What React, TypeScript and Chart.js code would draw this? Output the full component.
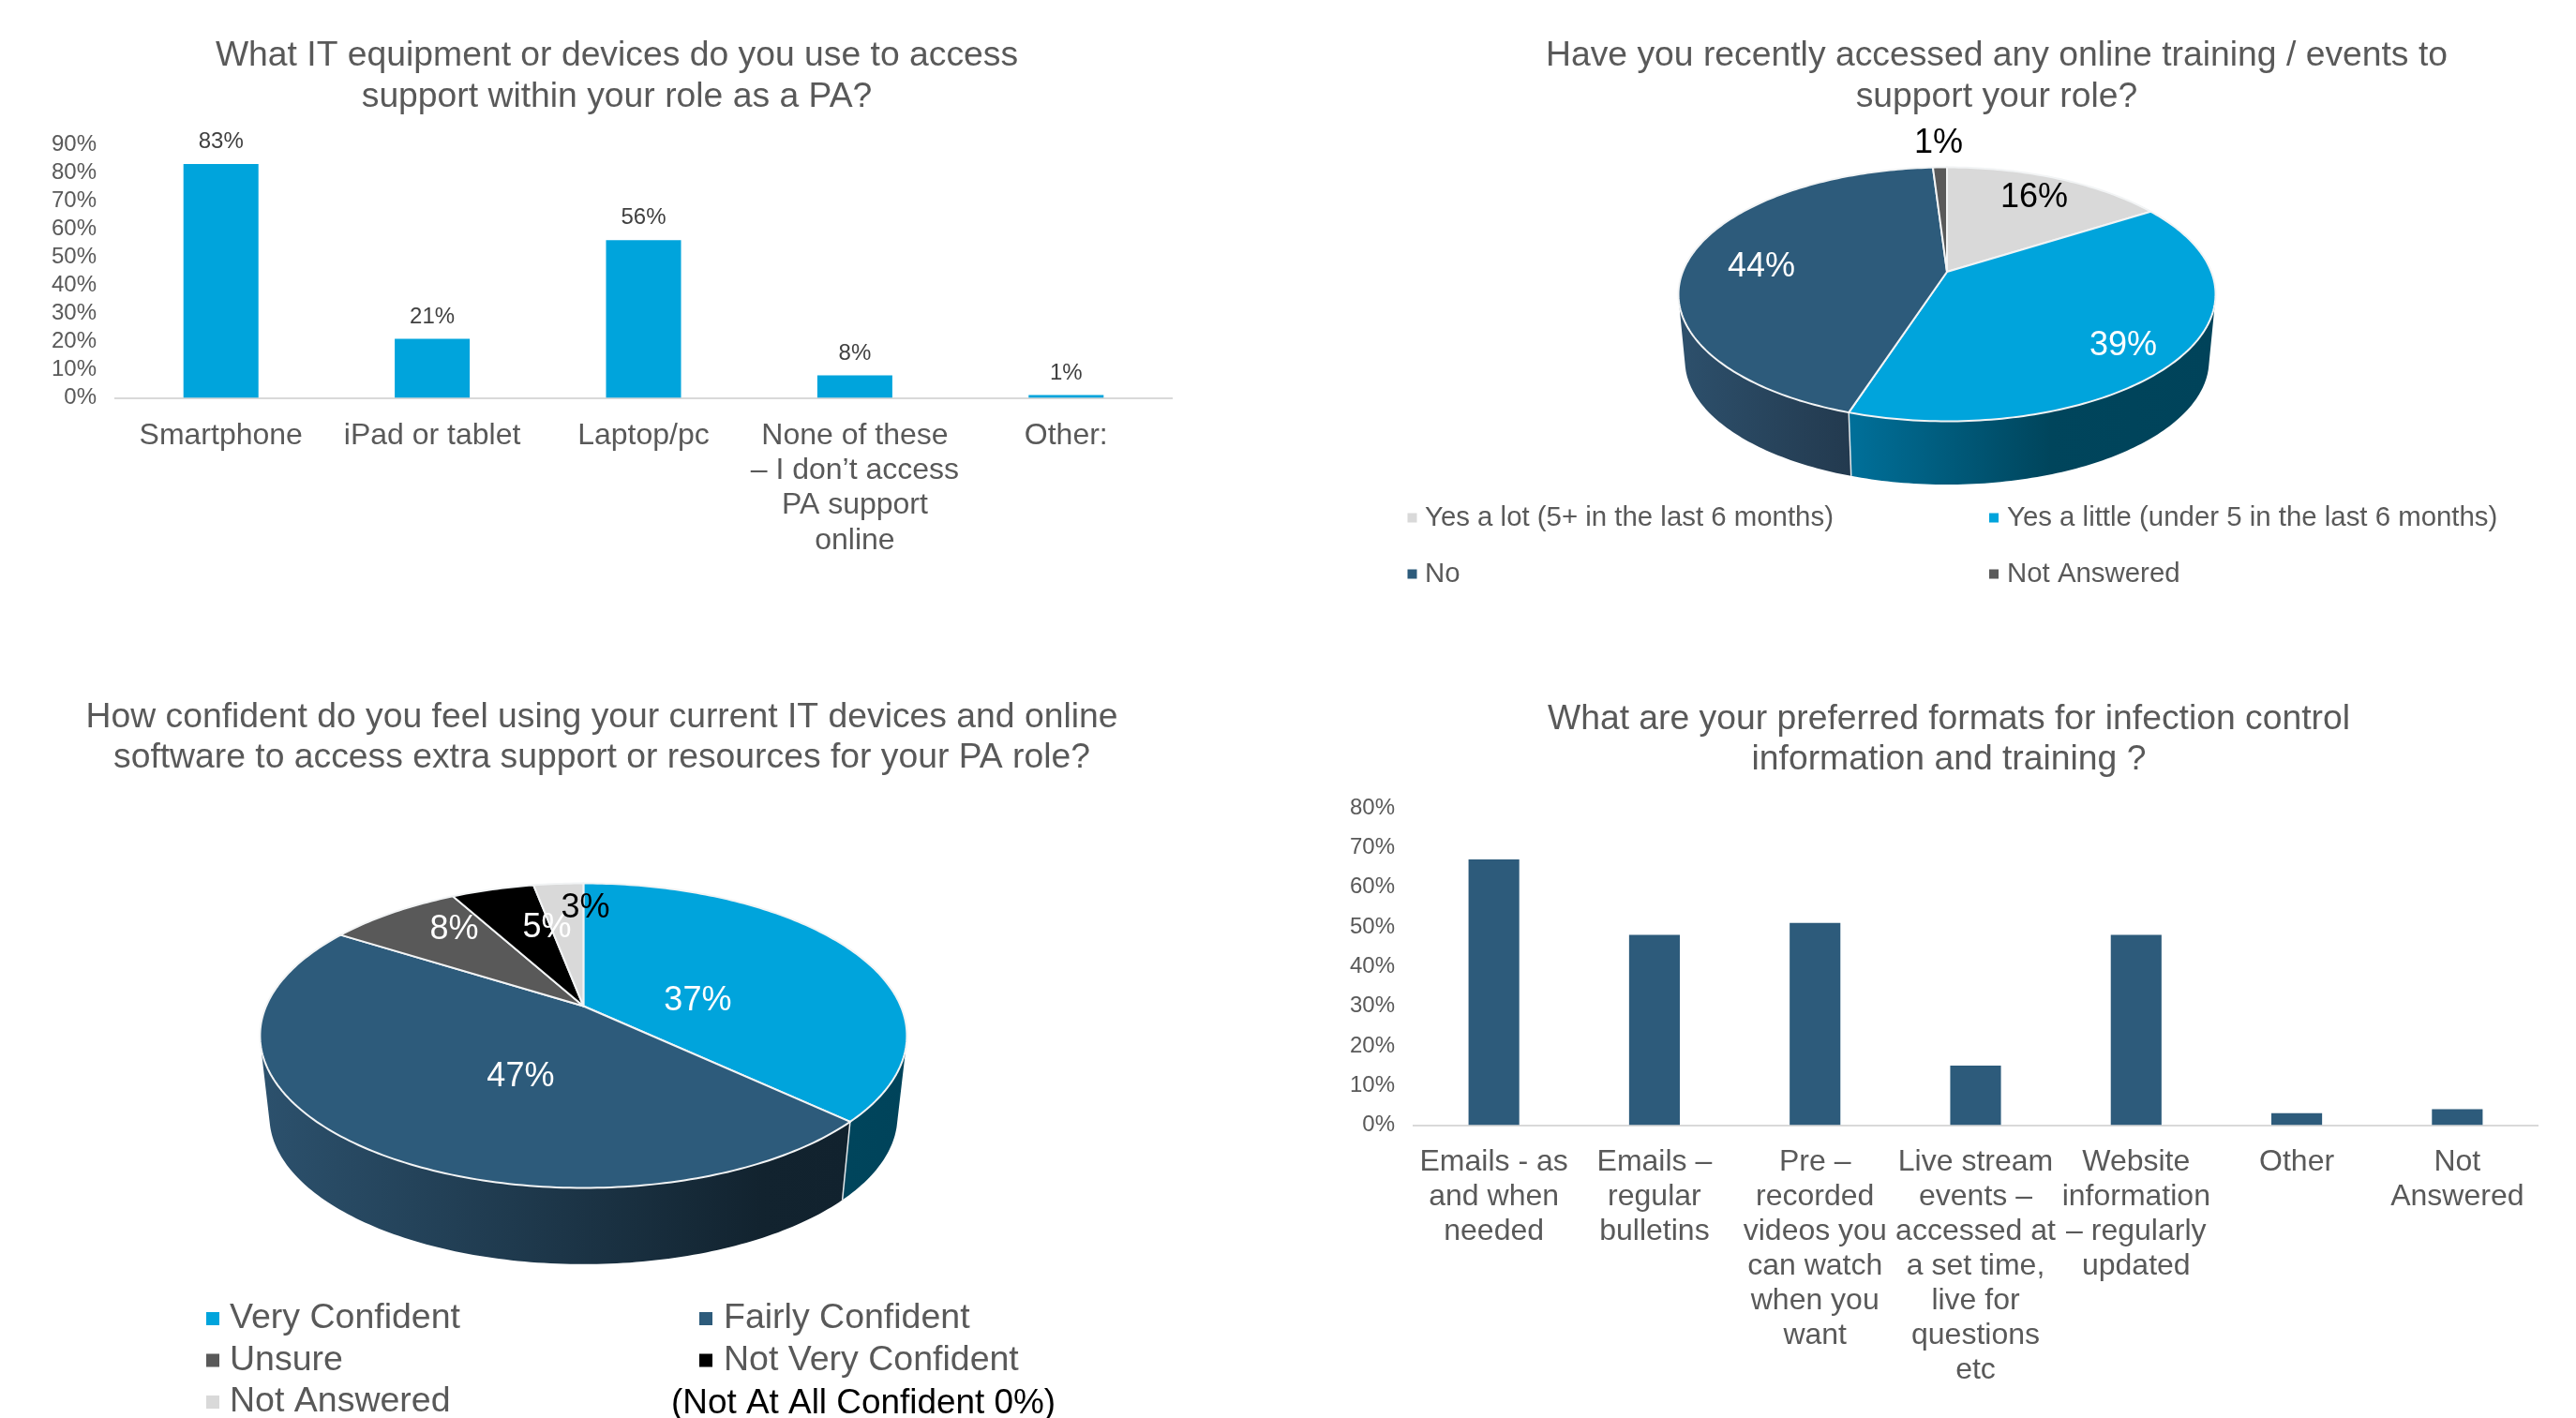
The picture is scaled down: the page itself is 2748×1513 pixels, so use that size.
import React, { useEffect, useRef } from "react";
import { Chart, registerables } from "chart.js";

Chart.register(...registerables);

const FONT = '"Liberation Sans", Arial, sans-serif';
const GREY = "#595959";
const CYAN = "#00A4DC";
const NAVY = "#2D5B7B";
const DARK = "#595959";
const BLACK = "#000000";
const PALE = "#D9D9D9";

// Devices used to access PA support
const deviceTitle = ["What IT equipment or devices do you use to access", "support within your role as a PA?"];
const deviceLabels = ["Smartphone", "iPad or tablet", "Laptop/pc", ["None of these", "– I don’t access", "PA support", "online"], "Other:"];
const deviceValues = [83, 21, 56, 8, 1];

// Recent online training
const trainingTitle = ["Have you recently accessed any online training / events to", "support your role?"];
const trainingLabels = ["Yes a lot (5+ in the last 6 months)", "Yes a little (under 5 in the last 6 months)", "No", "Not Answered"];
const trainingValues = [16, 39, 44, 1];
const trainingColors = [PALE, CYAN, NAVY, DARK];

// Confidence with devices and software
const confidenceTitle = ["How confident do you feel using your current IT devices and online", "software to access extra support or resources for your PA role?"];
const confidenceLabels = ["Very Confident", "Fairly Confident", "Unsure", "Not Very Confident", "Not Answered"];
const confidenceValues = [37, 47, 8, 5, 3];
const confidenceColors = [CYAN, NAVY, DARK, BLACK, PALE];
const confidenceNote = "(Not At All Confident 0%)";

// Preferred training formats
const formatTitle = ["What are your preferred formats for infection control", "information and training ?"];
const formatLabels = [
  ["Emails - as", "and when", "needed"],
  ["Emails –", "regular", "bulletins"],
  ["Pre –", "recorded", "videos you", "can watch", "when you", "want"],
  ["Live stream", "events –", "accessed at", "a set time,", "live for", "questions", "etc"],
  ["Website", "information", "– regularly", "updated"],
  ["Other"],
  ["Not", "Answered"],
];
const formatValues = [67, 48, 51, 15, 48, 3, 4];

type Box = { left: number; top: number; width: number; height: number };

function titleOptions(text: string[], size: number, lineHeight: number, padTop: number, padBottom: number) {
  return {
    display: true,
    text,
    color: GREY,
    font: { family: FONT, size, weight: "normal", lineHeight: lineHeight / size },
    padding: { top: padTop, bottom: padBottom },
  };
}

// Percentage printed above each bar
const barValueLabels = {
  id: "barValueLabels",
  afterLayout(chart: any) {
    // the value axis labels run into the left padding, so widen their clip area
    chart.scales.y.left = 0;
  },
  afterDatasetsDraw(chart: any, _args: any, opts: any) {
    if (!opts.show) return;
    const { ctx } = chart;
    const bars = chart.getDatasetMeta(0).data;
    ctx.save();
    ctx.font = `24px ${FONT}`;
    ctx.fillStyle = "#404040";
    ctx.textAlign = "center";
    ctx.textBaseline = "middle";
    bars.forEach((bar: any, i: number) => {
      ctx.fillText(`${chart.data.datasets[0].data[i]}%`, bar.x, bar.y - opts.gap);
    });
    ctx.restore();
  },
};

type BarSpec = {
  box: Box;
  title: string[];
  titleSize: number;
  titleLine: number;
  titlePad: [number, number];
  labels: any[];
  values: number[];
  color: string;
  max: number;
  thickness: number;
  padding: { left: number; right: number; bottom: number };
  yWidth: number;
  xHeight: number;
  lineHeight: number;
  xPad: number;
  valueLabels: boolean;
};

function BarPanel({ spec }: { spec: BarSpec }) {
  const ref = useRef<HTMLCanvasElement>(null);
  useEffect(() => {
    const chart = new Chart(ref.current!, {
      type: "bar",
      data: {
        labels: spec.labels,
        datasets: [{ data: spec.values, backgroundColor: spec.color, barPercentage: spec.thickness, categoryPercentage: 1 }],
      },
      plugins: [barValueLabels],
      options: {
        animation: false,
        responsive: false,
        layout: { padding: { top: 0, ...spec.padding } },
        plugins: {
          legend: { display: false },
          tooltip: { enabled: false },
          title: titleOptions(spec.title, spec.titleSize, spec.titleLine, spec.titlePad[0], spec.titlePad[1]),
          barValueLabels: { show: spec.valueLabels, gap: 23.5 },
        },
        scales: {
          x: {
            grid: { display: false, drawTicks: false },
            border: { display: true, color: "#D9D9D9", width: 2 },
            ticks: {
              color: GREY,
              padding: spec.xPad,
              autoSkip: false,
              maxRotation: 0,
              minRotation: 0,
              font: { family: FONT, size: 32, lineHeight: spec.lineHeight / 32 },
            },
            afterFit: (s: any) => {
              s.height = spec.xHeight;
            },
          },
          y: {
            min: 0,
            max: spec.max,
            grid: { display: false, drawTicks: false },
            border: { display: false },
            ticks: {
              stepSize: 10,
              autoSkip: false,
              color: GREY,
              padding: 20,
              font: { family: FONT, size: 24 },
              callback: (v: any) => `${v}%`,
            },
            afterFit: (s: any) => {
              s.width = spec.yWidth;
            },
          },
        },
      } as any,
    });
    return () => chart.destroy();
  }, [spec]);
  const { left, top, width, height } = spec.box;
  return <canvas ref={ref} width={width} height={height} style={{ position: "absolute", left, top, width, height }} />;
}

type PieView = {
  shiftX: number; // hub position against the centre of the chart area
  rx: number; // half width of the top face
  ry: number; // half height of the top face
  lift: number; // how far the hub sits above the middle of the face
  shrink: number; // scale of the lower rim against the upper rim
  drop: number; // vertical offset of the lower rim
};

type Pt = { x: number; y: number };

// Tilted-disc projection: the near side of the disc appears larger than the far side
function projector(view: PieView, ox: number, oy: number) {
  const k = view.lift / view.ry;
  const a = view.rx * Math.sqrt(1 - k * k);
  const b = (view.ry - view.lift) * (1 + k);
  return (theta: number, lower: boolean) => {
    const u = Math.sin(theta);
    const v = -Math.cos(theta);
    const w = 1 - k * v;
    const s = lower ? view.shrink : 1;
    return { x: ox + (s * a * u) / w, y: oy + (s * b * v) / w + (lower ? view.drop : 0), v, k };
  };
}

function tracePolygon(ctx: CanvasRenderingContext2D, pts: Pt[]) {
  ctx.beginPath();
  pts.forEach((p, i) => (i ? ctx.lineTo(p.x, p.y) : ctx.moveTo(p.x, p.y)));
  ctx.closePath();
}

// One path of same-handed quads between the two rims, so the silhouette is filled without seams
function traceWall(ctx: CanvasRenderingContext2D, upper: Pt[], lower: Pt[]) {
  ctx.beginPath();
  for (let i = 0; i + 1 < upper.length; i++) {
    const quad = [upper[i], upper[i + 1], lower[i + 1], lower[i]];
    let area = 0;
    quad.forEach((p, j) => {
      const q = quad[(j + 1) % 4];
      area += p.x * q.y - q.x * p.y;
    });
    if (area < 0) quad.reverse();
    quad.forEach((p, j) => (j ? ctx.lineTo(p.x, p.y) : ctx.moveTo(p.x, p.y)));
    ctx.closePath();
  }
}

// Draws the pie controller's slices as a solid tilted disc, from the arc angles it computed
const tiltedPie = {
  id: "tiltedPie",
  beforeDatasetsDraw(chart: any, _args: any, opts: any) {
    const { ctx } = chart;
    const arcs = chart.getDatasetMeta(0).data;
    const hubX = arcs[0].x + opts.view.shiftX;
    const hubY = arcs[0].y;
    const project = projector(opts.view, hubX, hubY);
    const ROT = Math.PI / 2;
    const sampled = (arc: any, lower: boolean) => {
      const a0 = arc.startAngle + ROT;
      const a1 = arc.endAngle + ROT;
      const n = Math.max(2, Math.ceil(((a1 - a0) * 180) / Math.PI));
      const out = [];
      for (let i = 0; i <= n; i++) out.push(project(a0 + ((a1 - a0) * i) / n, lower));
      return out;
    };
    ctx.save();
    // side wall
    arcs.forEach((arc: any, i: number) => {
      const upper = sampled(arc, false);
      const lower = sampled(arc, true);
      const visible = upper.filter((p: any) => p.v >= p.k).map((p: any) => p.x);
      const stops = opts.wall[i];
      const x0 = visible.length ? Math.min(...visible) : hubX;
      const x1 = visible.length ? Math.max(...visible) : hubX + 1;
      const grad = ctx.createLinearGradient(x0, 0, Math.max(x1, x0 + 1), 0);
      stops.forEach((c: [number, string]) => grad.addColorStop(c[0], c[1]));
      ctx.fillStyle = grad;
      traceWall(ctx, upper, lower);
      ctx.fill();
    });
    // seams on the wall
    ctx.strokeStyle = "#E4E8EB";
    ctx.lineWidth = 1.5;
    arcs.forEach((arc: any) => {
      const top = project(arc.startAngle + ROT, false);
      if (top.v < top.k) return;
      const bottom = project(arc.startAngle + ROT, true);
      ctx.beginPath();
      ctx.moveTo(top.x, top.y);
      ctx.lineTo(bottom.x, bottom.y);
      ctx.stroke();
    });
    // top face
    ctx.lineJoin = "round";
    arcs.forEach((arc: any) => {
      const pts = [{ x: hubX, y: hubY }, ...sampled(arc, false)];
      tracePolygon(ctx, pts);
      ctx.fillStyle = arc.options.backgroundColor;
      ctx.fill();
      ctx.strokeStyle = "#F2F4F5";
      ctx.lineWidth = 2;
      ctx.stroke();
    });
    // slice percentages
    ctx.font = `36px ${FONT}`;
    ctx.textAlign = "center";
    ctx.textBaseline = "middle";
    arcs.forEach((_arc: any, i: number) => {
      ctx.fillStyle = opts.labelColors[i];
      ctx.fillText(`${chart.data.datasets[0].data[i]}%`, hubX + opts.labelOffsets[i][0], hubY + opts.labelOffsets[i][1]);
    });
    ctx.restore();
    return false;
  },
};

// Two-column key beneath a pie
const gridLegend = {
  id: "gridLegend",
  afterDraw(chart: any, _args: any, opts: any) {
    const { ctx } = chart;
    const colors = chart.data.datasets[0].backgroundColor;
    ctx.save();
    ctx.font = `${opts.size}px ${FONT}`;
    ctx.textBaseline = "middle";
    ctx.textAlign = "left";
    chart.data.labels.forEach((label: string, i: number) => {
      const col = i % 2;
      const y = opts.rows[Math.floor(i / 2)];
      ctx.fillStyle = colors[i];
      ctx.fillRect(opts.markerX[col], y - opts.marker / 2, opts.marker, opts.marker);
      ctx.fillStyle = GREY;
      ctx.fillText(label, opts.textX[col], y);
    });
    if (opts.note) {
      ctx.font = `${opts.note.size}px ${FONT}`;
      ctx.fillStyle = BLACK;
      ctx.fillText(opts.note.text, opts.note.x, opts.note.y);
    }
    ctx.restore();
  },
};

type PieSpec = {
  box: Box;
  title: string[];
  titleSize: number;
  titleLine: number;
  titlePad: [number, number];
  labels: string[];
  values: number[];
  colors: string[];
  padding: { bottom: number };
  view: PieView;
  wall: [number, string][][];
  labelColors: string[];
  labelOffsets: [number, number][];
  legend: any;
};

function PiePanel({ spec }: { spec: PieSpec }) {
  const ref = useRef<HTMLCanvasElement>(null);
  useEffect(() => {
    const chart = new Chart(ref.current!, {
      type: "pie",
      data: { labels: spec.labels, datasets: [{ data: spec.values, backgroundColor: spec.colors }] },
      plugins: [tiltedPie, gridLegend],
      options: {
        animation: false,
        responsive: false,
        layout: { padding: { top: 0, left: 0, right: 0, ...spec.padding } },
        plugins: {
          legend: { display: false },
          tooltip: { enabled: false },
          title: titleOptions(spec.title, spec.titleSize, spec.titleLine, spec.titlePad[0], spec.titlePad[1]),
          tiltedPie: { view: spec.view, wall: spec.wall, labelColors: spec.labelColors, labelOffsets: spec.labelOffsets },
          gridLegend: spec.legend,
        },
      } as any,
    });
    return () => chart.destroy();
  }, [spec]);
  const { left, top, width, height } = spec.box;
  return <canvas ref={ref} width={width} height={height} style={{ position: "absolute", left, top, width, height }} />;
}

const deviceSpec: BarSpec = {
  box: { left: 0, top: 0, width: 1316, height: 700 },
  title: deviceTitle,
  titleSize: 37.3,
  titleLine: 44,
  titlePad: [38, 28],
  labels: deviceLabels,
  values: deviceValues,
  color: CYAN,
  max: 90,
  thickness: 0.355,
  padding: { left: 66, right: 66, bottom: 0 },
  yWidth: 57,
  xHeight: 275.5,
  lineHeight: 37.4,
  xPad: 21.5,
  valueLabels: true,
};

const formatSpec: BarSpec = {
  box: { left: 1400, top: 700, width: 1358, height: 813 },
  title: formatTitle,
  titleSize: 37.3,
  titleLine: 43,
  titlePad: [46, 30],
  labels: formatLabels,
  values: formatValues,
  color: NAVY,
  max: 80,
  thickness: 0.316,
  padding: { left: 51, right: 51, bottom: 0 },
  yWidth: 57,
  xHeight: 312.5,
  lineHeight: 37,
  xPad: 21.5,
  valueLabels: false,
};

const trainingSpec: PieSpec = {
  box: { left: 1480, top: 0, width: 1300, height: 660 },
  title: trainingTitle,
  titleSize: 37.3,
  titleLine: 44,
  titlePad: [38, 2],
  labels: trainingLabels,
  values: trainingValues,
  colors: trainingColors,
  padding: { bottom: 208 },
  view: { shiftX: -53, rx: 286.5, ry: 135.5, lift: 24, shrink: 0.9756, drop: 71.4 },
  wall: [
    [[0, "#A8A8A8"], [1, "#A8A8A8"]],
    [[0, "#00709A"], [0.55, "#00455C"], [1, "#00435A"]],
    [[0, "#2D506C"], [1, "#233A4F"]],
    [[0, "#404040"], [1, "#404040"]],
  ],
  labelColors: [BLACK, "#FFFFFF", "#FFFFFF", BLACK],
  labelOffsets: [[93, -79], [188, 79], [-198, -5], [-9, -137]],
  legend: { size: 29.4, marker: 10, markerX: [21.5, 642], textX: [40, 661], rows: [552.5, 612.5] },
};

const confidenceSpec: PieSpec = {
  box: { left: 0, top: 700, width: 1284, height: 813 },
  title: confidenceTitle,
  titleSize: 37.3,
  titleLine: 43,
  titlePad: [44.5, 2],
  labels: confidenceLabels,
  values: confidenceValues,
  colors: confidenceColors,
  padding: { bottom: 198.5 },
  view: { shiftX: -19.6, rx: 345, ry: 162.5, lift: 31.5, shrink: 0.971, drop: 87 },
  wall: [
    [[0, "#00455C"], [1, "#00435A"]],
    [[0, "#2C516D"], [0.85, "#12232F"], [1, "#11222E"]],
    [[0, "#404040"], [1, "#404040"]],
    [[0, "#000000"], [1, "#000000"]],
    [[0, "#A8A8A8"], [1, "#A8A8A8"]],
  ],
  labelColors: ["#FFFFFF", "#FFFFFF", "#FFFFFF", "#FFFFFF", BLACK],
  labelOffsets: [[122, -5], [-67, 76], [-138, -81], [-39, -83], [2, -104]],
  legend: {
    size: 37.5,
    marker: 14,
    markerX: [220, 746],
    textX: [245, 772],
    rows: [707, 751.5, 796],
    note: { text: confidenceNote, x: 716, y: 798, size: 36.9 },
  },
};

export default function App() {
  return (
    <div style={{ position: "absolute", left: 0, top: 0, width: 2748, height: 1513, background: "#fff", overflow: "hidden" }}>
      <BarPanel spec={deviceSpec} />
      <PiePanel spec={trainingSpec} />
      <PiePanel spec={confidenceSpec} />
      <BarPanel spec={formatSpec} />
    </div>
  );
}
